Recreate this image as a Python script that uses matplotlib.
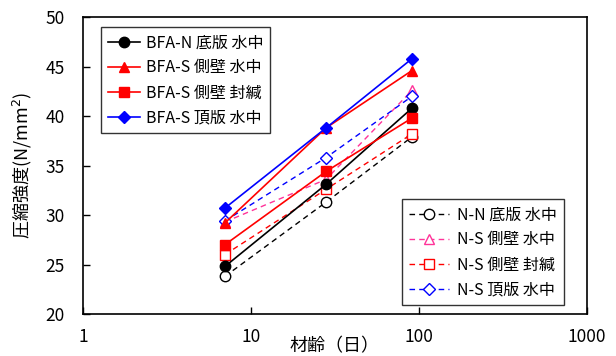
import matplotlib.pyplot as plt
from matplotlib.ticker import FixedLocator, NullLocator, FixedFormatter

plt.rcParams['font.family'] = ['Noto Sans CJK JP', 'DejaVu Sans']

# 材齢 (日)
days = [7, 28, 91]

# 圧縮強度 (N/mm2)
bfa_n_bottom_water = [24.8, 33.1, 40.8]
bfa_s_side_water = [29.2, 38.8, 44.6]
bfa_s_side_sealed = [27.0, 34.4, 39.8]
bfa_s_top_water = [30.7, 38.8, 45.8]

n_n_bottom_water = [23.8, 31.3, 37.9]
n_s_side_water = [29.3, 33.6, 42.6]
n_s_side_sealed = [26.0, 32.6, 38.2]
n_s_top_water = [29.4, 35.8, 42.0]

bfa_labels = ["BFA-N 底版 水中", "BFA-S 側壁 水中", "BFA-S 側壁 封緘", "BFA-S 頂版 水中"]
n_labels = ["N-N 底版 水中", "N-S 側壁 水中", "N-S 側壁 封緘", "N-S 頂版 水中"]

fig = plt.figure(figsize=(6.16, 3.56), dpi=100)
ax = fig.add_axes([0.1347, 0.118, 0.818, 0.834])

dash = (0, (4, 3))

# BFA (実線・塗りつぶし)
h1 = []
h1 += ax.plot(days, bfa_n_bottom_water, '-', color='black', marker='o', ms=7.5, lw=1.2)
h1 += ax.plot(days, bfa_s_side_water, '-', color='red', marker='^', ms=7.5, lw=1.2)
h1 += ax.plot(days, bfa_s_side_sealed, '-', color='red', marker='s', ms=7, lw=1.2)
h1 += ax.plot(days, bfa_s_top_water, '-', color='blue', marker='D', ms=6.5, lw=1.2)

# N (破線・白抜き)
h2 = []
h2 += ax.plot(days, n_n_bottom_water, linestyle=dash, color='black', marker='o', ms=7.5,
              mfc='white', lw=1.0, zorder=1.9)
h2 += ax.plot(days, n_s_side_water, linestyle=dash, color='#ff3399', marker='^', ms=7.5,
              mfc='white', lw=1.0, zorder=1.9)
h2 += ax.plot(days, n_s_side_sealed, linestyle=dash, color='red', marker='s', ms=7,
              mfc='white', lw=1.0, zorder=1.9)
h2 += ax.plot(days, n_s_top_water, linestyle=dash, color='blue', marker='D', ms=6.5,
              mfc='white', lw=1.0, zorder=1.9)

ax.set_xscale('log')
ax.set_xlim(1, 1000)
ax.set_ylim(20, 50)
ax.xaxis.set_major_locator(FixedLocator([1, 10, 100, 1000]))
ax.xaxis.set_major_formatter(FixedFormatter(['1', '10', '100', '1000']))
ax.xaxis.set_minor_locator(NullLocator())
ax.set_yticks([20, 25, 30, 35, 40, 45, 50])
ax.tick_params(direction='in', labelsize=12.5, length=5, width=1)
ax.tick_params(axis='y', pad=13)
ax.tick_params(axis='x', pad=10)
for s in ax.spines.values():
    s.set_linewidth(1.2)

ax.set_xlabel("材齢（日）", fontsize=13, va='center')
ax.xaxis.set_label_coords(0.5, -0.11)
ax.set_ylabel("圧縮強度(N/mm$^{2}$)", fontsize=13, va='center')
ax.yaxis.set_label_coords(-0.12, 0.5)

leg1 = fig.legend(h1, bfa_labels, loc='upper left', bbox_to_anchor=(0.164, 0.924),
                  fontsize=11.5, frameon=True, fancybox=False, edgecolor='black',
                  handlelength=2.0, handletextpad=0.35, labelspacing=0.5,
                  borderaxespad=0, borderpad=0.45)
leg1.get_frame().set_linewidth(1.0)
leg2 = fig.legend(h2, n_labels, loc='upper left', bbox_to_anchor=(0.6526, 0.441),
                  fontsize=11.5, frameon=True, fancybox=False, edgecolor='black',
                  handlelength=2.5, handletextpad=0.5, labelspacing=0.5,
                  borderaxespad=0, borderpad=0.45)
leg1.get_frame().set_linewidth(1.0)
leg2.get_frame().set_linewidth(1.0)

fig.savefig('out.png', dpi=100)
